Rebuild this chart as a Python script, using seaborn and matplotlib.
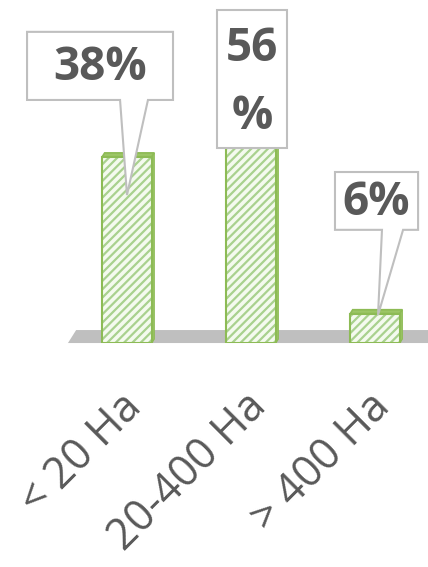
import matplotlib
matplotlib.use("Agg")
import matplotlib.pyplot as plt
from matplotlib.patches import Polygon, Rectangle
from matplotlib.transforms import ScaledTranslation
import seaborn as sns
import pandas as pd

# Farm size classes and their share of the total
categories = ["< 20 Ha", "20-400 Ha", "> 400 Ha"]
shares = [38, 56, 6]
share_labels = ["38%", "56\n%", "6%"]

sns.set_theme(style="white")
plt.rcParams["font.family"] = ["Open Sans", "DejaVu Sans"]
plt.rcParams["hatch.linewidth"] = 1.6

TEXT = "#595959"
HATCH = "#a9d18e"
FACE = "#f4faee"
EDGE = "#8dbb55"
TOP = "#9cc666"
FLOOR = "#bfbfbf"

fig = plt.figure(figsize=(4.28, 5.67), dpi=100)
ax = fig.add_axes([0.0, 0.395, 1.0, 0.605])

df = pd.DataFrame({"size": categories, "share": shares})
sns.barplot(data=df, x="size", y="share", ax=ax, width=0.4,
            color=FACE, edgecolor=HATCH, linewidth=0, hatch="////",
            saturation=1, zorder=3)

ax.set_xlim(-1.024, 2.427)
ax.set_ylim(0, 70)

# floor of the 3-D plot area
ax.add_patch(Polygon([(-0.476, 0), (-0.41, 2.65), (2.6, 2.65), (2.6, 0)],
                     closed=True, facecolor=FLOOR, edgecolor="none",
                     zorder=1, clip_on=False))

# depth faces and outlines for each column
dx, dy = 0.02, 0.8
for p in list(ax.patches):
    if not isinstance(p, Rectangle) or p.get_hatch() is None:
        continue
    x0, w, h = p.get_x(), p.get_width(), p.get_height()
    ax.add_patch(Polygon([(x0, h), (x0 + w, h), (x0 + w + dx, h + dy),
                          (x0 + dx, h + dy)], closed=True, facecolor=TOP,
                         edgecolor=EDGE, lw=1.2, zorder=4))
    ax.add_patch(Polygon([(x0 + w, 0), (x0 + w + dx, dy), (x0 + w + dx, h + dy),
                          (x0 + w, h)], closed=True, facecolor=TOP,
                         edgecolor=EDGE, lw=0.8, zorder=4))
    ax.add_patch(Rectangle((x0, 0), w, h, facecolor="none", edgecolor=EDGE,
                           lw=1.5, zorder=4))

# callout boxes: (left, right, bottom, top) plus pointer base and tip depth
boxes = [(-0.806, 0.371, 49.6, 63.5), (0.726, 1.29, 39.8, 68.0),
         (1.677, 2.347, 23.1, 34.9)]
pointer_base = [(-0.056, 0.169), None, (2.056, 2.226)]
pointer_tip_x = [0.0, None, 2.024]
tip_depth = [7.8, None, 0.3]

for i, (l, r, b, t) in enumerate(boxes):
    if pointer_base[i] is None:
        verts = [(l, b), (r, b), (r, t), (l, t)]
    else:
        pl, pr = pointer_base[i]
        tip = (pointer_tip_x[i], shares[i] - tip_depth[i])
        verts = [(l, b), (pl, b), tip, (pr, b), (r, b), (r, t), (l, t)]
    ax.add_patch(Polygon(verts, closed=True, facecolor="white",
                         edgecolor="#bfbfbf", lw=1.5, zorder=6, clip_on=False))
    ax.text((l + r) / 2, (b + t) / 2 + (-0.8 if "\n" in share_labels[i] else -0.3),
            share_labels[i], ha="center", va="center", fontsize=33,
            fontweight="bold", color=TEXT, zorder=7, linespacing=1.58)

ax.set_xlabel("")
ax.set_ylabel("")
ax.set_yticks([])
ax.tick_params(axis="x", length=0, pad=30)
ax.set_xticks(range(len(categories)))
ax.set_xticklabels(categories, rotation=45, ha="right",
                   rotation_mode="anchor", fontsize=31, color=TEXT)
shift = ScaledTranslation(-7 / 100, 0, fig.dpi_scale_trans)
for lab in ax.get_xticklabels():
    lab.set_transform(lab.get_transform() + shift)
for s in ax.spines.values():
    s.set_visible(False)
ax.patch.set_alpha(0)

fig.savefig("out.png", dpi=100)
